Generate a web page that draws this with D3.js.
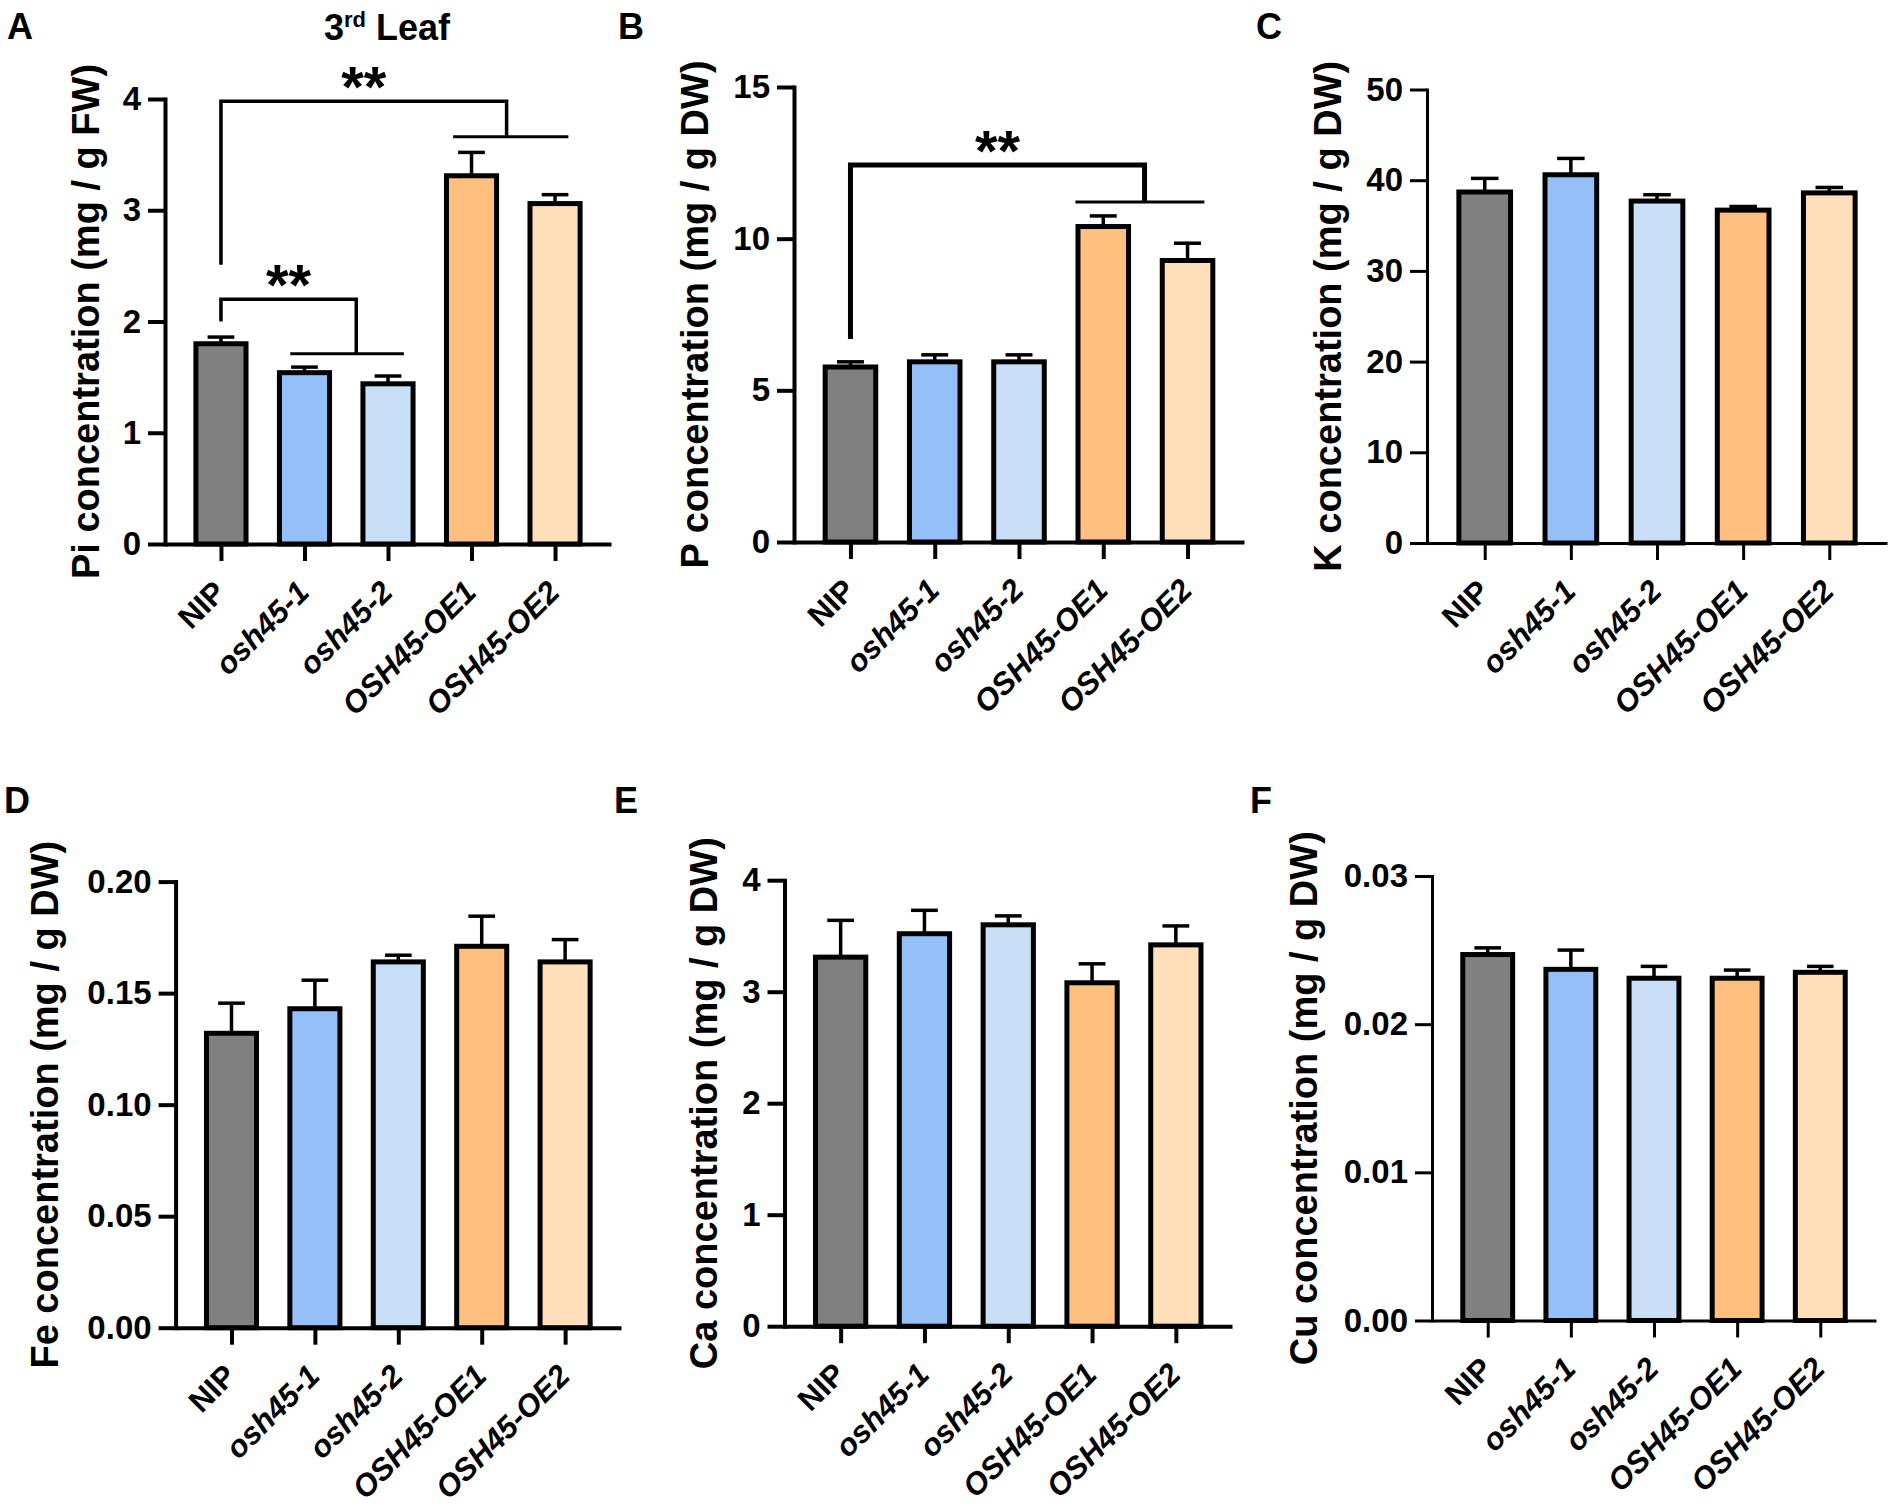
<!DOCTYPE html>
<html>
<head>
<meta charset="utf-8">
<script src="https://cdn.jsdelivr.net/npm/d3@7"></script>
<style>
  body { margin: 0; background: #fff; }
  svg { display: block; }
</style>
</head>
<body>
<svg id="fig" width="1890" height="1508"></svg>
<script>
const FONT = '"Liberation Sans", Arial, Helvetica, sans-serif';

// genotypes, shared by every panel
const GROUPS = ['NIP', 'osh45-1', 'osh45-2', 'OSH45-OE1', 'OSH45-OE2'];
const ITALIC = [false, true, true, true, true];
const FILLS = ['#808080', '#94c0f7', '#c9def7', '#ffc07f', '#ffdfba'];

// means and upper SE
const PI_MEAN = [1.80, 1.54, 1.44, 3.31, 3.06];
const PI_ERR = [0.06, 0.05, 0.07, 0.21, 0.08];
const P_MEAN = [5.77, 5.94, 5.94, 10.40, 9.28];
const P_ERR = [0.17, 0.23, 0.23, 0.35, 0.57];
const K_MEAN = [38.7, 40.6, 37.7, 36.7, 38.6];
const K_ERR = [1.5, 1.8, 0.7, 0.4, 0.6];
const FE_MEAN = [0.132, 0.143, 0.164, 0.171, 0.164];
const FE_ERR = [0.0135, 0.0128, 0.003, 0.0135, 0.010];
const CA_MEAN = [3.31, 3.52, 3.60, 3.08, 3.42];
const CA_ERR = [0.33, 0.21, 0.08, 0.17, 0.17];
const CU_MEAN = [0.0247, 0.0237, 0.0231, 0.0231, 0.0235];
const CU_ERR = [0.00045, 0.0013, 0.0008, 0.00055, 0.0004];

// y tick values
const PI_TICKS = [0, 1, 2, 3, 4];
const P_TICKS = [0, 5, 10, 15];
const K_TICKS = [0, 10, 20, 30, 40, 50];
const FE_TICKS = [0, 0.05, 0.10, 0.15, 0.20];
const CA_TICKS = [0, 1, 2, 3, 4];
const CU_TICKS = [0, 0.01, 0.02, 0.03];

// significance: NIP vs a pair of lines
const PI_SIG = [
    { pair: [3, 4], top: 3.98, leftEnd: 2.51, pairY: 3.66, legAt: 0.42, ext: [0.22, 0.16] },
    { pair: [1, 2], top: 2.20, leftEnd: 2.00, pairY: 1.71, legAt: 0.62, ext: [0.17, 0.19] }
];
const P_SIG = [
    { pair: [3, 4], top: 12.43, leftEnd: 6.69, pairY: 11.21, legAt: 0.49, ext: [0.33, 0.2] }
];

const PANELS = [
    { letter: 'A', lx: 7, ly: 39, title: 'Pi concentration (mg / g FW)', mean: PI_MEAN, err: PI_ERR, ticks: PI_TICKS, fmt: 'd',
      axisX: 165, right: 611, top: 99, base: 544, titleX: 99, axisW: 4, sig: PI_SIG, sigW: 3.5 },
    { letter: 'B', lx: 618, ly: 39, title: 'P concentration (mg / g DW)', mean: P_MEAN, err: P_ERR, ticks: P_TICKS, fmt: 'd',
      axisX: 794, right: 1244, top: 87, base: 542, titleX: 708, axisW: 4, sig: P_SIG, sigW: 5 },
    { letter: 'C', lx: 1256, ly: 39, title: 'K concentration (mg / g DW)', mean: K_MEAN, err: K_ERR, ticks: K_TICKS, fmt: 'd',
      axisX: 1427, right: 1887, top: 89.5, base: 543, titleX: 1341, axisW: 3 },
    { letter: 'D', lx: 4, ly: 813, title: 'Fe concentration (mg / g DW)', mean: FE_MEAN, err: FE_ERR, ticks: FE_TICKS, fmt: '.2f',
      axisX: 175.6, right: 621, top: 881.6, base: 1327.7, titleX: 58, axisW: 4 },
    { letter: 'E', lx: 614, ly: 813, title: 'Ca concentration (mg / g DW)', mean: CA_MEAN, err: CA_ERR, ticks: CA_TICKS, fmt: 'd',
      axisX: 784.5, right: 1232, top: 880.2, base: 1326.2, titleX: 717, axisW: 4 },
    { letter: 'F', lx: 1250, ly: 813, title: 'Cu concentration (mg / g DW)', mean: CU_MEAN, err: CU_ERR, ticks: CU_TICKS, fmt: '.2f',
      axisX: 1432, right: 1876, top: 876, base: 1320.5, titleX: 1317, axisW: 3 }
];

const svg = d3.select('#fig');

function styleText(sel, size) {
    return sel.attr('font-family', FONT)
        .attr('font-weight', 'bold')
        .attr('font-size', size)
        .attr('fill', '#000');
}

function drawSignificance(g, p, x, y) {
    const step = x.step();
    p.sig.forEach(s => {
        const xa = x(GROUPS[0]);
        const x1 = x(GROUPS[s.pair[0]]);
        const x2 = x(GROUPS[s.pair[1]]);
        const xb = x1 + (x2 - x1) * s.legAt;
        const path = d3.path();
        path.moveTo(xa, y(s.leftEnd));
        path.lineTo(xa, y(s.top));
        path.lineTo(xb, y(s.top));
        path.lineTo(xb, y(s.pairY));
        g.append('path')
            .attr('d', path.toString())
            .attr('fill', 'none')
            .attr('stroke', '#000')
            .attr('stroke-width', p.sigW);
        g.append('line')
            .attr('x1', x1 - step * s.ext[0])
            .attr('x2', x2 + step * s.ext[1])
            .attr('y1', y(s.pairY))
            .attr('y2', y(s.pairY))
            .attr('stroke', '#000')
            .attr('stroke-width', 3);
        styleText(g.append('text'), 58)
            .attr('x', (xa + xb) / 2)
            .attr('y', y(s.top) - 27 + 33)
            .attr('text-anchor', 'middle')
            .text('**');
    });
}

function drawPanel(p) {
    const g = svg.append('g').attr('class', 'panel');
    const x = d3.scalePoint().domain(GROUPS).range([p.axisX, p.right]).padding(0.67);
    const y = d3.scaleLinear().domain([0, d3.max(p.ticks)]).range([p.base, p.top]);
    const step = x.step();
    const barW = step * 0.6;
    const capW = step * 0.32;
    const rows = GROUPS.map((name, i) => ({ name, i, mean: p.mean[i], err: p.err[i] }));

    // upper error bars, drawn before the bars
    const eb = g.append('g').attr('stroke', '#000').attr('stroke-width', 3.5);
    eb.selectAll('line.stem').data(rows).join('line')
        .attr('class', 'stem')
        .attr('x1', d => x(d.name)).attr('x2', d => x(d.name))
        .attr('y1', d => y(d.mean)).attr('y2', d => y(d.mean + d.err));
    eb.selectAll('line.cap').data(rows).join('line')
        .attr('class', 'cap')
        .attr('x1', d => x(d.name) - capW / 2).attr('x2', d => x(d.name) + capW / 2)
        .attr('y1', d => y(d.mean + d.err)).attr('y2', d => y(d.mean + d.err));

    g.selectAll('rect.bar').data(rows).join('rect')
        .attr('class', 'bar')
        .attr('x', d => x(d.name) - barW / 2)
        .attr('y', d => y(d.mean))
        .attr('width', barW)
        .attr('height', d => y(0) - y(d.mean))
        .attr('fill', d => FILLS[d.i])
        .attr('stroke', '#000')
        .attr('stroke-width', 5);

    const yAxis = g.append('g')
        .attr('transform', `translate(${p.axisX},0)`)
        .call(d3.axisLeft(y).tickValues(p.ticks).tickFormat(d3.format(p.fmt))
            .tickSize(17).tickSizeOuter(0).tickPadding(7));
    yAxis.select('.domain').attr('stroke', '#000').attr('stroke-width', p.axisW).attr('stroke-linecap', 'square');
    yAxis.selectAll('.tick line').attr('stroke', '#000').attr('stroke-width', p.axisW);
    styleText(yAxis.selectAll('.tick text'), 33);

    const xAxis = g.append('g')
        .attr('transform', `translate(0,${p.base})`)
        .call(d3.axisBottom(x).tickSize(17).tickSizeOuter(0));
    xAxis.select('.domain').attr('stroke', '#000').attr('stroke-width', p.axisW);
    xAxis.selectAll('.tick line').attr('stroke', '#000').attr('stroke-width', p.axisW);
    styleText(xAxis.selectAll('.tick text'), 31)
        .attr('x', 0).attr('y', 0).attr('dy', null)
        .attr('transform', 'translate(6,50) rotate(-45)')
        .attr('text-anchor', 'end')
        .attr('font-style', (d, i) => ITALIC[i] ? 'italic' : 'normal');

    styleText(g.append('text'), 38)
        .attr('transform', `translate(${p.titleX},${(p.top + p.base) / 2}) rotate(-90)`)
        .attr('text-anchor', 'middle')
        .text(p.title);

    styleText(g.append('text'), 36)
        .attr('x', p.lx).attr('y', p.ly)
        .text(p.letter);

    if (p.sig) drawSignificance(g, p, x, y);
}

PANELS.forEach(drawPanel);

// panel A heading
const head = styleText(svg.append('text'), 36)
    .attr('x', 387).attr('y', 40)
    .attr('text-anchor', 'middle');
head.append('tspan').text('3');
head.append('tspan').attr('font-size', 22).attr('dy', -13).text('rd');
head.append('tspan').attr('dy', 13).text(' Leaf');
</script>
</body>
</html>
